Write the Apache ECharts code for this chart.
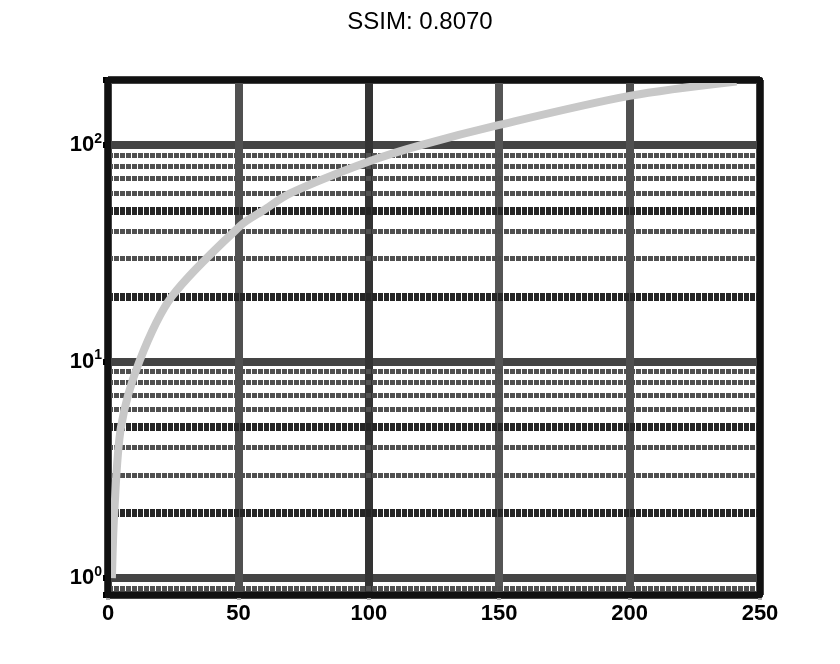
<!DOCTYPE html>
<html>
<head>
<meta charset="utf-8">
<script src="https://cdn.jsdelivr.net/npm/echarts@6/dist/echarts.min.js"></script>
<style>html,body{margin:0;padding:0;background:#fff;}#c{width:840px;height:664px;}</style>
</head>
<body>
<div id="c"></div>
<script>
// ---- data ----
const titleText = 'SSIM: 0.8070';
const curveX = [1.5, 2.4, 5, 12, 24.5, 51, 59.6, 70, 100, 120, 150, 200, 241];
const curveY = [1.0, 2.0, 5.0, 10, 20, 42.7, 50, 60, 84, 100, 124, 169, 197];
const xTicks = [0, 50, 100, 150, 200, 250];
const xMin = 0, xMax = 250, xStep = 50;
const yMin = 0.835, yMax = 200;
const yMajorLabels = {0: '0', 1: '1', 2: '2'};      // exponents of 10
const yStrongMinor = [2, 5, 20, 50];
const yMinor = [0.9, 3, 4, 6, 7, 8, 9, 30, 40, 60, 70, 80, 90];

const curve = curveX.map((x, i) => [x, curveY[i]]);

const chart = echarts.init(document.getElementById('c'), null, {renderer: 'canvas'});
const frameAxis = {
  type: 'value', min: xMin, max: xMax, interval: xStep,
  axisLine: {show: true, onZero: false, lineStyle: {color: '#111', width: 6}},
  axisTick: {show: false}, axisLabel: {show: false}, splitLine: {show: false}, z: 10
};
const frameYAxis = Object.assign({}, frameAxis, {type: 'log', min: yMin, max: yMax, interval: undefined, logBase: 10});

chart.setOption({
  animation: false,
  backgroundColor: '#fff',
  title: {
    text: titleText, left: 'center', top: 5,
    textStyle: {fontSize: 24, fontWeight: 'normal', color: '#000', fontFamily: 'Liberation Sans'}
  },
  grid: {left: 108, right: 80, top: 80, bottom: 69, containLabel: false},
  xAxis: [
    {
      type: 'value', min: xMin, max: xMax, interval: xStep,
      axisLine: {show: false},
      axisTick: {show: true, length: 5, lineStyle: {color: '#aaa', width: 4}},
      axisLabel: {
        show: true, margin: 8, color: '#000', fontSize: 22, fontWeight: 'bold',
        fontFamily: 'Liberation Sans', formatter: v => String(v)
      },
      splitLine: {show: true, lineStyle: {width: 8, color: ['#444', '#505050', '#333', '#555', '#505050', '#444']}},
      z: 0
    },
    Object.assign({}, frameAxis, {position: 'bottom'}),
    Object.assign({}, frameAxis, {position: 'top'})
  ],
  yAxis: [
    {
      type: 'log', logBase: 10, min: yMin, max: yMax,
      axisLine: {show: false},
      axisTick: {show: true, length: 5, lineStyle: {color: '#000', width: 6}},
      axisLabel: {
        show: true, margin: 6, color: '#000',
        formatter: function (v) {
          const e = Math.log10(v);
          const r = Math.round(e);
          if (Math.abs(e - r) < 1e-6 && yMajorLabels[r] !== undefined) {
            return '{b|10}{s|' + yMajorLabels[r] + '}';
          }
          return '';
        },
        rich: {
          b: {fontSize: 22, fontWeight: 'bold', color: '#000', fontFamily: 'Liberation Sans'},
          s: {fontSize: 14, fontWeight: 'bold', color: '#000', fontFamily: 'Liberation Sans', verticalAlign: 'top', padding: [0, 0, 12, 0]}
        }
      },
      splitLine: {show: true, lineStyle: {width: 8, color: '#444'}},
      z: 0
    },
    Object.assign({}, frameYAxis, {position: 'left'}),
    Object.assign({}, frameYAxis, {position: 'right'})
  ],
  series: [
    {
      type: 'line', xAxisIndex: 0, yAxisIndex: 0, z: 1,
      data: [[xMin, 1]], showSymbol: false, symbol: 'none',
      lineStyle: {opacity: 0}, silent: true,
      markLine: {
        silent: true, symbol: ['none', 'none'], label: {show: false},
        animation: false,
        data: yMinor.map(v => ({yAxis: v, lineStyle: {color: '#505050', width: 5, type: [5, 1]}}))
          .concat(yStrongMinor.map(v => ({yAxis: v, lineStyle: {color: '#262626', width: 8, type: [5, 1]}})))
      }
    },
    {
      type: 'line', xAxisIndex: 0, yAxisIndex: 0, z: 5,
      data: curve, showSymbol: false, symbol: 'none', smooth: 0.3,
      lineStyle: {color: '#c8c8c8', width: 8}, clip: true
    }
  ]
});
</script>
</body>
</html>
